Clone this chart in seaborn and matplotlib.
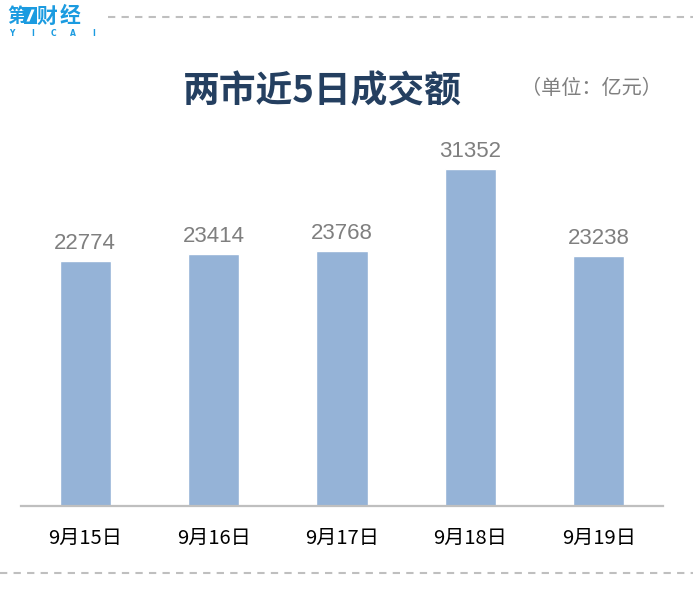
import matplotlib
matplotlib.use("Agg")
import matplotlib.pyplot as plt
import seaborn as sns
import pandas as pd
from matplotlib.patches import Rectangle, Polygon
from matplotlib.lines import Line2D

# Data: turnover of the two markets over five trading days (unit: 100 million yuan)
dates = ["9月15日", "9月16日", "9月17日", "9月18日", "9月19日"]
turnover = [22774, 23414, 23768, 31352, 23238]

title = "两市近5日成交额"
unit_note = "（单位：亿元）"

sns.set_theme(style="white")
plt.rcParams["font.family"] = ["Noto Sans CJK SC", "DejaVu Sans"]

W, H = 693, 589
fig = plt.figure(figsize=(W / 100, H / 100), dpi=100)
fig.patch.set_facecolor("white")


def fx(x):
    return x / W


def fy(y):
    return 1 - y / H


# Plot area: baseline at y=506 px, spans x 21..663 px
ax = fig.add_axes([fx(21), fy(506), (663 - 21) / W, 376.2 / H])
df = pd.DataFrame({"date": dates, "turnover": turnover})
sns.barplot(data=df, x="date", y="turnover", color="#95b3d7", saturation=1,
            width=0.4, ax=ax, errorbar=None)
ax.set_ylim(0, 35000)
ax.set_xlim(-0.5, len(dates) - 0.5)

for c in ax.containers:
    ax.bar_label(c, labels=[str(v) for v in turnover], padding=5,
                 fontsize=16, color="#7f7f7f", family="Liberation Sans")

for s in ["top", "right", "left"]:
    ax.spines[s].set_visible(False)
ax.spines["bottom"].set_color("#bfbfbf")
ax.spines["bottom"].set_linewidth(1.6)
ax.set_xlabel("")
ax.set_ylabel("")
ax.set_yticks([])
ax.tick_params(axis="x", length=0, pad=16, labelsize=14.5, labelcolor="#000000")
ax.set_facecolor("white")

# Title and unit
fig.text(fx(322), fy(92), title, ha="center", va="center", fontsize=26.5,
         fontweight="bold", color="#243f60")
fig.text(fx(591), fy(88), unit_note, ha="center", va="center", fontsize=14.5,
         color="#7f7f7f")

# Dashed separators
fig.add_artist(Line2D([fx(108), fx(693)], [fy(17), fy(17)], transform=fig.transFigure,
                      color="#bfbfbf", lw=1.5, linestyle=(0, (3.5, 3))))
fig.add_artist(Line2D([fx(0), fx(693)], [fy(573), fy(573)], transform=fig.transFigure,
                      color="#bfbfbf", lw=1.5, linestyle=(0, (3.5, 3))))

# Logo
blue = "#1b9be0"
fig.text(fx(17), fy(16), "第", ha="center", va="center", fontsize=14,
         fontweight="bold", color=blue)
fig.add_artist(Rectangle((fx(24), fy(23.5)), 13 / W, 16 / H, transform=fig.transFigure,
                         facecolor=blue, edgecolor="none"))
fig.add_artist(Polygon([(fx(26.5), fy(21.5)), (fx(29.5), fy(21.5)),
                        (fx(34.5), fy(9.5)), (fx(31.5), fy(9.5))],
                       closed=True, transform=fig.transFigure,
                       facecolor="white", edgecolor="none"))
fig.text(fx(47), fy(16), "财", ha="center", va="center", fontsize=15,
         fontweight="bold", color=blue)
fig.text(fx(70), fy(16), "经", ha="center", va="center", fontsize=15,
         fontweight="bold", color=blue)
for ch, x in zip("YICAI", [12, 33, 53, 73, 94]):
    fig.text(fx(x), fy(34), ch, ha="center", va="center", fontsize=5.5,
             fontweight="bold", color=blue, family="DejaVu Sans")

fig.savefig("out.png", dpi=100, facecolor="white")
